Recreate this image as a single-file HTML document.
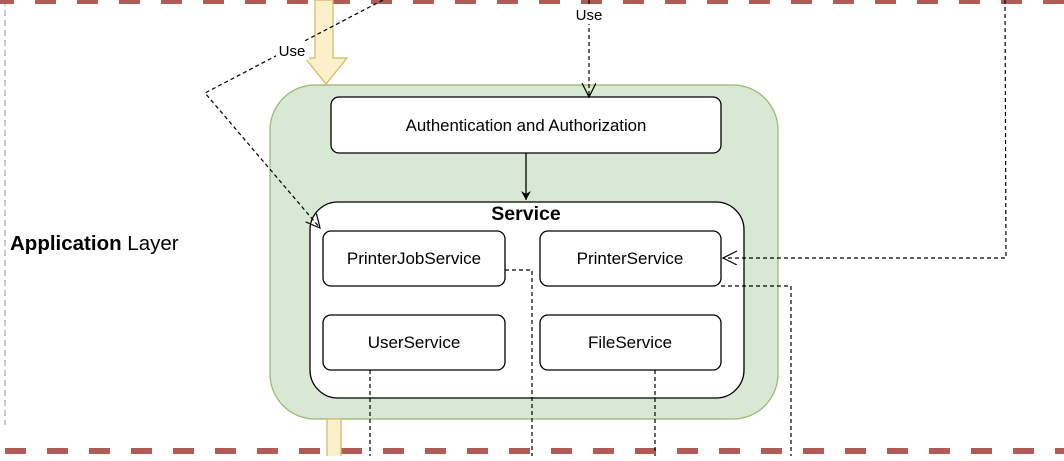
<!DOCTYPE html>
<html><head><style>
body{margin:0;width:1064px;height:456px;overflow:hidden;background:#fff;font-family:"Liberation Sans",Arial,sans-serif}
</style></head><body>
<svg width="1064" height="456" xmlns="http://www.w3.org/2000/svg" font-family="Liberation Sans, Arial, sans-serif">
<defs>
<marker id="open" markerWidth="16" markerHeight="16" refX="14" refY="7" orient="auto" markerUnits="userSpaceOnUse"><path d="M0,0 L14,7 L0,14" fill="none" stroke="#000" stroke-width="1.2"/></marker>
<marker id="solid" markerWidth="12" markerHeight="12" refX="9" refY="5" orient="auto" markerUnits="userSpaceOnUse"><path d="M0,0 L9,5 L0,10 L3,5 Z" fill="#000"/></marker>
</defs>
<line x1="5" y1="0" x2="5" y2="425" stroke="#aaa" stroke-dasharray="6,4" stroke-width="1.2"/>
<line x1="0" y1="1" x2="1064" y2="1" stroke="#b05c55" stroke-width="6" stroke-dasharray="21,21" stroke-dashoffset="7"/>
<line x1="0" y1="451" x2="1064" y2="451" stroke="#b05c55" stroke-width="6" stroke-dasharray="21,21" stroke-dashoffset="-5"/>
<text x="10" y="250" font-size="20.5"><tspan font-weight="bold">Application</tspan> Layer</text>
<rect x="270" y="85" width="508" height="334" rx="45" fill="#d9e7d5" stroke="#93b76c" stroke-width="1.2"/>
<path d="M315,0 L333,0 L333,58 L347,58 L326,84 L305,58 L315,58 Z" fill="#fbf0cb" stroke="#d7b65c" stroke-width="1.2"/>
<rect x="327" y="419" width="14" height="40" fill="#fbf0cb" stroke="#d7b65c" stroke-width="1.2"/>
<rect x="331" y="97" width="390" height="56" rx="8" fill="#fff" stroke="#000" stroke-width="1.3"/>
<text x="526" y="131" font-size="16.8" text-anchor="middle">Authentication and Authorization</text>
<line x1="526" y1="153" x2="526" y2="200" stroke="#000" stroke-width="1.3" marker-end="url(#solid)"/>
<rect x="310" y="202" width="434" height="196" rx="28" fill="#fff" stroke="#000" stroke-width="1.3"/>
<text x="526" y="220" font-size="19.5" font-weight="bold" text-anchor="middle">Service</text>
<g font-size="17" text-anchor="middle" stroke-width="1.3">
<rect x="323" y="231" width="182" height="55" rx="8" fill="#fff" stroke="#000"/>
<text x="414" y="264">PrinterJobService</text>
<rect x="540" y="231" width="181" height="55" rx="8" fill="#fff" stroke="#000"/>
<text x="630" y="264">PrinterService</text>
<rect x="323" y="315" width="182" height="55" rx="8" fill="#fff" stroke="#000"/>
<text x="414" y="348">UserService</text>
<rect x="540" y="315" width="181" height="55" rx="8" fill="#fff" stroke="#000"/>
<text x="630" y="348">FileService</text>
</g>
<g fill="none" stroke="#000" stroke-width="1.2" stroke-dasharray="4,3">
<polyline points="383,0 205,93 320,228" marker-end="url(#open)"/>
<line x1="589" y1="0" x2="589" y2="97" marker-end="url(#open)"/>
<polyline points="1005,0 1006,258 723,258" marker-end="url(#open)"/>
<polyline points="505,270 532,270 532,456"/>
<polyline points="721,286 791,286 791,456"/>
<line x1="370" y1="370" x2="370" y2="456"/>
<line x1="655" y1="370" x2="655" y2="456"/>
</g>
<rect x="276" y="41" width="33" height="19" fill="#fff"/>
<text x="292" y="56" font-size="15" text-anchor="middle">Use</text>
<rect x="573" y="5" width="32" height="19" fill="#fff"/>
<text x="589" y="20" font-size="15" text-anchor="middle">Use</text>
</svg>
</body></html>
